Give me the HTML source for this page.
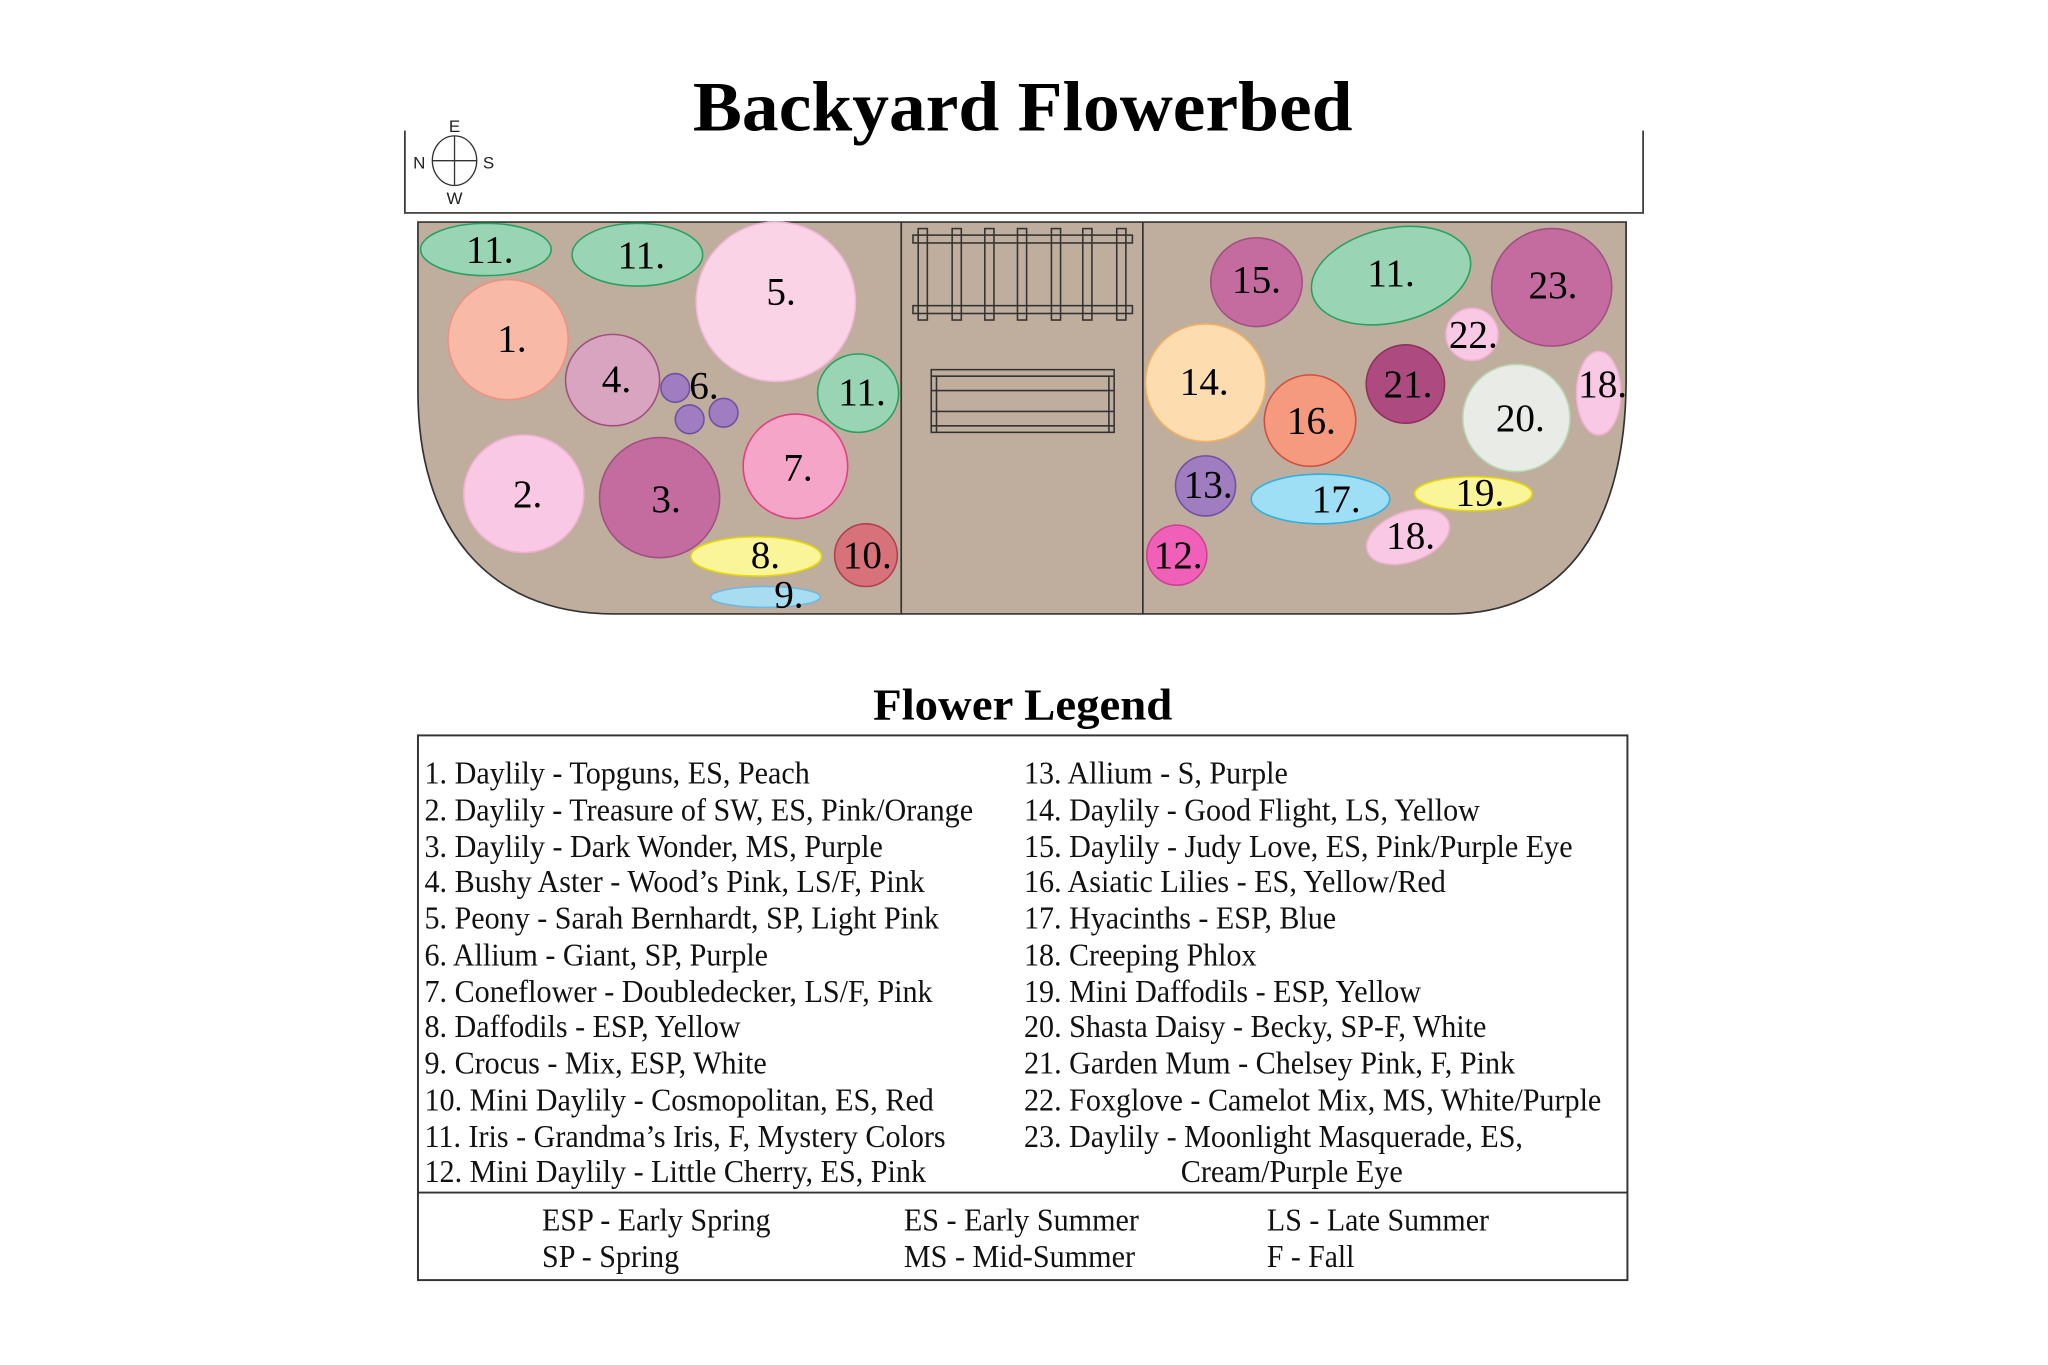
<!DOCTYPE html>
<html><head><meta charset="utf-8"><style>html,body{margin:0;padding:0;background:#fff}svg{display:block}</style></head><body>
<svg width="2048" height="1365" viewBox="0 0 1568 1045" preserveAspectRatio="none" xmlns="http://www.w3.org/2000/svg">
<rect width="1568" height="1045" fill="#fff"/>
<text x="783" y="100" text-anchor="middle" font-family="Liberation Serif, serif" font-weight="bold" font-size="54" textLength="505" lengthAdjust="spacingAndGlyphs">Backyard Flowerbed</text>
<path d="M310,100 V163 H1258 V100" fill="none" stroke="#333" stroke-width="1.3"/>
<ellipse cx="348" cy="123" rx="17" ry="19" fill="none" stroke="#333" stroke-width="1"/>
<line x1="331" y1="123" x2="365" y2="123" stroke="#333"/><line x1="348" y1="104" x2="348" y2="142" stroke="#333"/>
<g font-family="Liberation Sans, sans-serif" font-size="13" text-anchor="middle" fill="#222">
<text x="348" y="101">E</text><text x="321" y="129">N</text><text x="374" y="129">S</text><text x="348" y="156">W</text></g>
<path d="M320,170 H1245 V290 C1245,400 1200,470 1110,470 H470 C370,470 320,400 320,300 Z" fill="#bfae9e" stroke="#333" stroke-width="1.3"/>
<line x1="690" y1="170" x2="690" y2="470" stroke="#333" stroke-width="1.3"/>
<line x1="875" y1="170" x2="875" y2="470" stroke="#333" stroke-width="1.3"/>
<g fill="none" stroke="#333" stroke-width="1.2">
<rect x="699" y="180" width="168" height="6"/><rect x="699" y="234" width="168" height="6"/>
<rect x="703" y="175" width="7" height="70"/><rect x="729" y="175" width="7" height="70"/><rect x="754" y="175" width="7" height="70"/><rect x="779" y="175" width="7" height="70"/><rect x="805" y="175" width="7" height="70"/><rect x="829" y="175" width="7" height="70"/><rect x="855" y="175" width="7" height="70"/>
<rect x="713" y="283" width="140" height="48"/>
<line x1="713" y1="288" x2="853" y2="288"/><line x1="713" y1="299" x2="853" y2="299"/><line x1="713" y1="315" x2="853" y2="315"/><line x1="713" y1="326" x2="853" y2="326"/>
<line x1="717" y1="288" x2="717" y2="331"/><line x1="849" y1="288" x2="849" y2="331"/>
</g>
<g stroke-width="1.2">
<ellipse cx="372" cy="191" rx="50" ry="20" fill="#99d4b4" stroke="#2aa060"/>
<ellipse cx="488" cy="195" rx="50" ry="24" fill="#99d4b4" stroke="#2aa060"/>
<ellipse cx="594" cy="231" rx="61" ry="61" fill="#fbd3e6" stroke="#f0b8d8"/>
<ellipse cx="389" cy="260" rx="46" ry="46" fill="#f8baa6" stroke="#f09080"/>
<ellipse cx="469" cy="291" rx="36" ry="35" fill="#d8a4c0" stroke="#a05080"/>
<circle cx="517" cy="297" r="11" fill="#a07cc0" stroke="#7050a0"/>
<circle cx="528" cy="321" r="11" fill="#a07cc0" stroke="#7050a0"/>
<circle cx="554" cy="316" r="11" fill="#a07cc0" stroke="#7050a0"/>
<ellipse cx="657" cy="301" rx="31" ry="30" fill="#99d4b4" stroke="#2aa060"/>
<ellipse cx="609" cy="357" rx="40" ry="40" fill="#f5a6c8" stroke="#e04080"/>
<ellipse cx="401" cy="378" rx="46" ry="45" fill="#f8c8e4" stroke="#f0b0d0"/>
<ellipse cx="505" cy="381" rx="46" ry="46" fill="#c46ca0" stroke="#a05080"/>
<ellipse cx="579" cy="426" rx="50" ry="15" fill="#fbf59a" stroke="#e8d800"/>
<ellipse cx="663" cy="425" rx="24" ry="24" fill="#d8727a" stroke="#b04050"/>
<ellipse cx="586" cy="457" rx="42" ry="8" fill="#a8dcf0" stroke="#70b8e0"/>
<ellipse cx="962" cy="216" rx="35" ry="34" fill="#c46ca0" stroke="#a05080"/>
<ellipse cx="1065" cy="211" rx="62" ry="36" fill="#99d4b4" stroke="#2aa060" transform="rotate(-13 1065 211)"/>
<ellipse cx="1188" cy="220" rx="46" ry="45" fill="#c46ca0" stroke="#a05080"/>
<ellipse cx="1127" cy="256" rx="20" ry="20" fill="#f8c8e4" stroke="#f0b0d0"/>
<ellipse cx="923" cy="293" rx="46" ry="45" fill="#fddcb0" stroke="#f5b060"/>
<ellipse cx="1003" cy="322" rx="35" ry="35" fill="#f59a7e" stroke="#d05040"/>
<ellipse cx="1076" cy="294" rx="30" ry="30" fill="#ad4a80" stroke="#903060"/>
<ellipse cx="1161" cy="320" rx="41" ry="41" fill="#e8ebe6" stroke="#b8d8b0"/>
<ellipse cx="1224" cy="301" rx="17" ry="32" fill="#f8c8e4" stroke="#f0b0d0"/>
<ellipse cx="923" cy="372" rx="23" ry="23" fill="#a07cc0" stroke="#7050a0"/>
<ellipse cx="1011" cy="382" rx="53" ry="19" fill="#9edff5" stroke="#30b0e0"/>
<ellipse cx="1128" cy="378" rx="45" ry="13" fill="#fbf59a" stroke="#e8d800"/>
<ellipse cx="1078" cy="411" rx="33" ry="19" fill="#f8c8e4" stroke="#f0b0d0" transform="rotate(-20 1078 411)"/>
<ellipse cx="901" cy="425" rx="23" ry="23" fill="#f05fb8" stroke="#d04090"/>
</g>
<g font-family="Liberation Serif, serif" font-size="30" text-anchor="middle" fill="#000">
<text x="375" y="201">11.</text><text x="491" y="205">11.</text><text x="598" y="233">5.</text>
<text x="392" y="269">1.</text><text x="472" y="300">4.</text><text x="539" y="305">6.</text>
<text x="660" y="310">11.</text><text x="611" y="368">7.</text><text x="404" y="388">2.</text>
<text x="510" y="392">3.</text><text x="586" y="435">8.</text><text x="664" y="435">10.</text><text x="604" y="465">9.</text>
<text x="962" y="224">15.</text><text x="1065" y="219">11.</text><text x="1189" y="228">23.</text>
<text x="1128" y="266">22.</text><text x="922" y="302">14.</text><text x="1004" y="332">16.</text>
<text x="1078" y="304">21.</text><text x="1164" y="330">20.</text><text x="1227" y="304">18.</text>
<text x="925" y="381">13.</text><text x="1023" y="392">17.</text><text x="1133" y="387">19.</text>
<text x="1080" y="420">18.</text><text x="902" y="435">12.</text>
</g>
<text x="783" y="551" text-anchor="middle" font-family="Liberation Serif, serif" font-weight="bold" font-size="34" textLength="229" lengthAdjust="spacingAndGlyphs">Flower Legend</text>
<rect x="320" y="563" width="926" height="417" fill="none" stroke="#333" stroke-width="1.5"/>
<line x1="320" y1="913" x2="1246" y2="913" stroke="#333" stroke-width="1.5"/>
<g font-family="Liberation Serif, serif" font-size="24" fill="#111">
<text x="325" y="600" textLength="295" lengthAdjust="spacingAndGlyphs">1. Daylily - Topguns, ES, Peach</text>
<text x="325" y="628" textLength="420" lengthAdjust="spacingAndGlyphs">2. Daylily - Treasure of SW, ES, Pink/Orange</text>
<text x="325" y="656" textLength="351" lengthAdjust="spacingAndGlyphs">3. Daylily - Dark Wonder, MS, Purple</text>
<text x="325" y="683" textLength="383" lengthAdjust="spacingAndGlyphs">4. Bushy Aster - Wood’s Pink, LS/F, Pink</text>
<text x="325" y="711" textLength="394" lengthAdjust="spacingAndGlyphs">5. Peony - Sarah Bernhardt, SP, Light Pink</text>
<text x="325" y="739" textLength="263" lengthAdjust="spacingAndGlyphs">6. Allium - Giant, SP, Purple</text>
<text x="325" y="767" textLength="389" lengthAdjust="spacingAndGlyphs">7. Coneflower - Doubledecker, LS/F, Pink</text>
<text x="325" y="794" textLength="242" lengthAdjust="spacingAndGlyphs">8. Daffodils - ESP, Yellow</text>
<text x="325" y="822" textLength="262" lengthAdjust="spacingAndGlyphs">9. Crocus - Mix, ESP, White</text>
<text x="325" y="850" textLength="390" lengthAdjust="spacingAndGlyphs">10. Mini Daylily - Cosmopolitan, ES, Red</text>
<text x="325" y="878" textLength="399" lengthAdjust="spacingAndGlyphs">11. Iris - Grandma’s Iris, F, Mystery Colors</text>
<text x="325" y="905" textLength="384" lengthAdjust="spacingAndGlyphs">12. Mini Daylily - Little Cherry, ES, Pink</text>
<text x="784" y="600" textLength="202" lengthAdjust="spacingAndGlyphs">13. Allium - S, Purple</text>
<text x="784" y="628" textLength="349" lengthAdjust="spacingAndGlyphs">14. Daylily - Good Flight, LS, Yellow</text>
<text x="784" y="656" textLength="420" lengthAdjust="spacingAndGlyphs">15. Daylily - Judy Love, ES, Pink/Purple Eye</text>
<text x="784" y="683" textLength="323" lengthAdjust="spacingAndGlyphs">16. Asiatic Lilies - ES, Yellow/Red</text>
<text x="784" y="711" textLength="239" lengthAdjust="spacingAndGlyphs">17. Hyacinths - ESP, Blue</text>
<text x="784" y="739" textLength="178" lengthAdjust="spacingAndGlyphs">18. Creeping Phlox</text>
<text x="784" y="767" textLength="304" lengthAdjust="spacingAndGlyphs">19. Mini Daffodils - ESP, Yellow</text>
<text x="784" y="794" textLength="354" lengthAdjust="spacingAndGlyphs">20. Shasta Daisy - Becky, SP-F, White</text>
<text x="784" y="822" textLength="376" lengthAdjust="spacingAndGlyphs">21. Garden Mum - Chelsey Pink, F, Pink</text>
<text x="784" y="850" textLength="442" lengthAdjust="spacingAndGlyphs">22. Foxglove - Camelot Mix, MS, White/Purple</text>
<text x="784" y="878" textLength="382" lengthAdjust="spacingAndGlyphs">23. Daylily - Moonlight Masquerade, ES,</text>
<text x="904" y="905" textLength="170" lengthAdjust="spacingAndGlyphs">Cream/Purple Eye</text>
<text x="415" y="942" textLength="175" lengthAdjust="spacingAndGlyphs">ESP - Early Spring</text>
<text x="415" y="970" textLength="105" lengthAdjust="spacingAndGlyphs">SP - Spring</text>
<text x="692" y="942" textLength="180" lengthAdjust="spacingAndGlyphs">ES - Early Summer</text>
<text x="692" y="970" textLength="177" lengthAdjust="spacingAndGlyphs">MS - Mid-Summer</text>
<text x="970" y="942" textLength="170" lengthAdjust="spacingAndGlyphs">LS - Late Summer</text>
<text x="970" y="970" textLength="67" lengthAdjust="spacingAndGlyphs">F - Fall</text>
</g>
</svg>
</body></html>
